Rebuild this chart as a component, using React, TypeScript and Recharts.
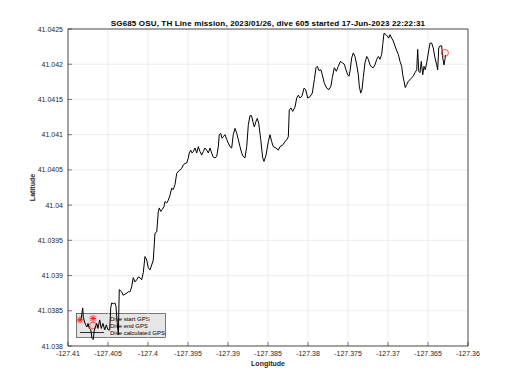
import React from 'react'
import { ComposedChart, Line, Scatter, XAxis, YAxis, CartesianGrid, ReferenceArea } from 'recharts'

// track, west to east
const lon = [
  -127.40838, -127.40816, -127.40809, -127.40784, -127.40763, -127.4075, -127.40734, -127.40716, -127.407, -127.40684,
  -127.40675, -127.40659, -127.40641, -127.40625, -127.40604, -127.40584, -127.40563, -127.40541, -127.40521, -127.405,
  -127.40479, -127.40466, -127.40454, -127.40434, -127.40413, -127.404, -127.40388, -127.40371, -127.40359, -127.40329,
  -127.40309, -127.40266, -127.40246, -127.40225, -127.40204, -127.40184, -127.40163, -127.40141, -127.40121, -127.401,
  -127.40079, -127.40059, -127.40038, -127.40016, -127.39996, -127.39975, -127.39954, -127.39934, -127.39913, -127.39891,
  -127.39871, -127.39859, -127.39841, -127.39821, -127.398, -127.39788, -127.39766, -127.39746, -127.39725, -127.39704,
  -127.39684, -127.39663, -127.39641, -127.39621, -127.396, -127.39579, -127.39559, -127.39538, -127.39516, -127.39496,
  -127.39484, -127.39466, -127.3945, -127.39434, -127.39413, -127.39391, -127.39371, -127.3935, -127.39329, -127.39309,
  -127.39288, -127.39266, -127.39246, -127.39225, -127.39204, -127.39184, -127.39163, -127.39141, -127.39121, -127.39109,
  -127.39091, -127.39075, -127.39059, -127.39038, -127.39016, -127.38996, -127.38975, -127.38954, -127.38934, -127.38913,
  -127.38891, -127.38871, -127.3885, -127.38829, -127.38809, -127.38788, -127.38766, -127.38746, -127.38725, -127.38706,
  -127.38688, -127.38671, -127.3865, -127.38634, -127.38616, -127.38591, -127.38566, -127.3855, -127.38525, -127.38496,
  -127.38475, -127.38454, -127.38434, -127.384, -127.38371, -127.3835, -127.38319, -127.38288, -127.38266, -127.38246,
  -127.38234, -127.38213, -127.38191, -127.38163, -127.38141, -127.38121, -127.381, -127.38075, -127.3805, -127.38029,
  -127.38004, -127.37975, -127.37946, -127.37921, -127.379, -127.37884, -127.37863, -127.37838, -127.37821, -127.37796,
  -127.37766, -127.37738, -127.37713, -127.37696, -127.37671, -127.37646, -127.37621, -127.37596, -127.37571, -127.37546,
  -127.37525, -127.37504, -127.37488, -127.37475, -127.37454, -127.37434, -127.37413, -127.37391, -127.37371, -127.37359,
  -127.37341, -127.37325, -127.37309, -127.37288, -127.37266, -127.37246, -127.37225, -127.37204, -127.37184, -127.37163,
  -127.37141, -127.37121, -127.371, -127.37079, -127.37066, -127.3705, -127.37025, -127.37009, -127.36991, -127.36975,
  -127.36954, -127.36934, -127.36913, -127.36891, -127.36871, -127.3685, -127.36829, -127.36816, -127.368, -127.36784,
  -127.36766, -127.36746, -127.36725, -127.36704, -127.36684, -127.36663, -127.36641, -127.36629, -127.36616, -127.366,
  -127.36584, -127.36566, -127.3655, -127.36534, -127.36516, -127.36496, -127.36475, -127.36454, -127.36434, -127.36413,
  -127.36391, -127.36379, -127.36366, -127.3635, -127.36329, -127.36316, -127.363, -127.36288, -127.36281,
]
const lat = [
  41.03837, 41.03854, 41.03841, 41.03831, 41.03827, 41.03832, 41.03825, 41.03823, 41.03811, 41.03809,
  41.0382, 41.03827, 41.03832, 41.03825, 41.03837, 41.03825, 41.03832, 41.03823, 41.0383, 41.03823,
  41.03823, 41.03854, 41.03861, 41.0386, 41.03861, 41.03856, 41.03837, 41.03816, 41.0388, 41.03877,
  41.03872, 41.03875, 41.03877, 41.03877, 41.03884, 41.03897, 41.03891, 41.03894, 41.03898, 41.03897,
  41.03894, 41.03904, 41.03927, 41.03922, 41.03911, 41.03908, 41.03915, 41.03922, 41.0396, 41.03962,
  41.03991, 41.03996, 41.03991, 41.03994, 41.03998, 41.04005, 41.04003, 41.04007, 41.04014, 41.04024,
  41.04022, 41.04029, 41.04045, 41.04048, 41.0405, 41.04052, 41.04057, 41.04059, 41.0406, 41.04067,
  41.04074, 41.04078, 41.04074, 41.04076, 41.04081, 41.04074, 41.04083, 41.04076, 41.04071, 41.04076,
  41.04081, 41.04078, 41.04074, 41.04081, 41.04074, 41.04068, 41.04067, 41.04069, 41.04083, 41.041,
  41.04102, 41.04095, 41.04097, 41.041, 41.04093, 41.04088, 41.04083, 41.04081, 41.041, 41.04109,
  41.04102, 41.04093, 41.04083, 41.04074, 41.04069, 41.04067, 41.04083, 41.04114, 41.04127, 41.04127,
  41.04118, 41.04111, 41.04119, 41.04123, 41.04116, 41.04093, 41.04067, 41.04062, 41.04071, 41.0409,
  41.041, 41.0409, 41.04083, 41.04081, 41.04078, 41.04083, 41.04085, 41.0409, 41.04093, 41.04097,
  41.04135, 41.04138, 41.04133, 41.04139, 41.04152, 41.04156, 41.04152, 41.04155, 41.04166, 41.04164,
  41.04152, 41.04154, 41.04159, 41.04178, 41.04195, 41.04197, 41.04191, 41.04192, 41.04185, 41.04173,
  41.04166, 41.04164, 41.04169, 41.04181, 41.04195, 41.0419, 41.04197, 41.04204, 41.04202, 41.042,
  41.04192, 41.04185, 41.04183, 41.0419, 41.04209, 41.04216, 41.04211, 41.04199, 41.04185, 41.04169,
  41.04159, 41.04164, 41.04181, 41.04202, 41.04211, 41.04207, 41.04199, 41.04196, 41.04195, 41.04199,
  41.04207, 41.04211, 41.04207, 41.04214, 41.04228, 41.04244, 41.04242, 41.0424, 41.04237, 41.04242,
  41.04237, 41.04233, 41.04226, 41.04219, 41.04214, 41.04204, 41.04197, 41.04185, 41.04176, 41.04167,
  41.04171, 41.04176, 41.04178, 41.04181, 41.04183, 41.04188, 41.04192, 41.04221, 41.0419, 41.04188,
  41.04204, 41.04185, 41.04197, 41.04192, 41.04202, 41.04216, 41.0423, 41.0423, 41.04223, 41.04209,
  41.04199, 41.04192, 41.04223, 41.04226, 41.04226, 41.04209, 41.04199, 41.04207, 41.04213,
]

const startGps = [{ lon: -127.4085, lat: 41.03837 }]
const endGps = [{ lon: -127.36288, lat: 41.04216 }]

const xTicks = [-127.41, -127.405, -127.4, -127.395, -127.39, -127.385, -127.38, -127.375, -127.37, -127.365, -127.36]
const xTickLabels = ['-127.41', '-127.405', '-127.4', '-127.395', '-127.39', '-127.385', '-127.38', '-127.375', '-127.37', '-127.365', '-127.36']
const yTicks = [41.038, 41.0385, 41.039, 41.0395, 41.04, 41.0405, 41.041, 41.0415, 41.042, 41.0425]
const yTickLabels = ['41.038', '41.0385', '41.039', '41.0395', '41.04', '41.0405', '41.041', '41.0415', '41.042', '41.0425']

const title = 'SG685 OSU, TH Line mission, 2023/01/26, dive 605 started 17-Jun-2023 22:22:31'
const legendLabels = ['Dive start GPS', 'Dive end GPS', 'Dive calculated GPS']

const track = lon.map((x, i) => ({ lon: x, lat: lat[i] }))

const FONT = '"Liberation Sans", Arial, sans-serif'
const AXIS = '#262626'

const labelFor = (ticks: number[], labels: string[], v: number) => {
  let best = 0
  ticks.forEach((t, i) => {
    if (Math.abs(t - v) < Math.abs(ticks[best] - v)) best = i
  })
  return labels[best]
}

const Star = (props: any) => {
  const { cx, cy } = props
  const r = 3
  return (
    <g stroke="#ff0000" strokeWidth={0.8}>
      <circle cx={cx} cy={cy} r={4.5} fill="rgba(255,0,0,0.12)" stroke="none" />
      <line x1={cx - r} y1={cy} x2={cx + r} y2={cy} />
      <line x1={cx} y1={cy - r} x2={cx} y2={cy + r} />
      <line x1={cx - 2.2} y1={cy - 2.2} x2={cx + 2.2} y2={cy + 2.2} />
      <line x1={cx - 2.2} y1={cy + 2.2} x2={cx + 2.2} y2={cy - 2.2} />
    </g>
  )
}

const Ring = (props: any) => {
  const { cx, cy } = props
  return <circle cx={cx} cy={cy} r={3.5} fill="rgba(255,0,0,0.08)" stroke="#ff3030" strokeWidth={0.8} />
}

const XTick = (props: any) => {
  const { x, y, payload } = props
  return (
    <g>
      <line x1={x} y1={y - 4} x2={x} y2={y - 8} stroke={AXIS} strokeWidth={0.6} />
      <text x={x} y={y + 6} textAnchor="middle" fontSize={7} fontFamily={FONT} fill={AXIS}>
        {labelFor(xTicks, xTickLabels, payload.value)}
      </text>
    </g>
  )
}

const YTick = (props: any) => {
  const { x, y, payload } = props
  return (
    <g>
      <line x1={x + 5} y1={y} x2={x + 9} y2={y} stroke={AXIS} strokeWidth={0.6} />
      <text x={x} y={y + 2.5} textAnchor="end" fontSize={7} fontFamily={FONT} fill={AXIS}>
        {labelFor(yTicks, yTickLabels, payload.value)}
      </text>
    </g>
  )
}

function GpsLegend() {
  return (
    <svg width={520} height={390} style={{ position: 'absolute', left: 0, top: 0 }}>
      <rect x={76.5} y={313.5} width={89} height={24} fill="#e6e6e6" stroke={AXIS} strokeWidth={0.6} />
      <Star cx={93} cy={318.5} />
      <Ring cx={93} cy={325.5} />
      <line x1={80} y1={332.5} x2={104} y2={332.5} stroke="#000" strokeWidth={0.8} />
      {legendLabels.map((t, i) => (
        <text key={t} x={110} y={320.5 + i * 7.2} fontSize={6} fontFamily={FONT} fill="#000">
          {t}
        </text>
      ))}
    </svg>
  )
}

export default function App() {
  return (
    <div style={{ position: 'absolute', left: 0, top: 0, width: 520, height: 390, background: '#fff' }}>
      <GpsLegend />
      <div
        style={{
          position: 'absolute',
          left: 0,
          top: 18.5,
          width: 536,
          textAlign: 'center',
          fontFamily: FONT,
          fontWeight: 'bold',
          fontSize: 8,
          letterSpacing: 0.15,
          color: '#000',
          whiteSpace: 'nowrap',
        }}
      >
        {title}
      </div>
      <div style={{ position: 'absolute', left: 0, top: 0 }}>
        <ComposedChart width={520} height={390} margin={{ top: 29, right: 52, bottom: 14, left: 8 }}>
          <CartesianGrid stroke="#e5e5e5" strokeWidth={0.7} horizontalValues={yTicks} verticalValues={xTicks} />
          <XAxis
            dataKey="lon"
            type="number"
            domain={[-127.41, -127.36]}
            ticks={xTicks}
            interval={0}
            allowDataOverflow
            height={30}
            tickLine={false}
            axisLine={false}
            tickSize={3}
            tickMargin={1}
            tick={<XTick />}
            label={{ value: 'Longitude', position: 'insideBottom', offset: 10, fontSize: 7, fontWeight: 'bold', fontFamily: FONT, fill: AXIS }}
          />
          <YAxis
            dataKey="lat"
            type="number"
            domain={[41.038, 41.0425]}
            ticks={yTicks}
            interval={0}
            allowDataOverflow
            width={60}
            tickLine={false}
            axisLine={false}
            tickSize={3}
            tickMargin={2}
            tick={<YTick />}
            label={{ value: 'Latitude', angle: -90, position: 'center', dx: -5, fontSize: 7, fontWeight: 'bold', fontFamily: FONT, fill: AXIS }}
          />
          <ReferenceArea x1={-127.41} x2={-127.36} y1={41.038} y2={41.0425} fill="none" stroke={AXIS} strokeWidth={0.8} />
          <Line data={track} dataKey="lat" type="linear" stroke="#000" strokeWidth={1} dot={false} isAnimationActive={false} />
          <Scatter data={startGps} dataKey="lat" shape={<Star />} isAnimationActive={false} />
          <Scatter data={endGps} dataKey="lat" shape={<Ring />} isAnimationActive={false} />
        </ComposedChart>
      </div>
    </div>
  )
}
